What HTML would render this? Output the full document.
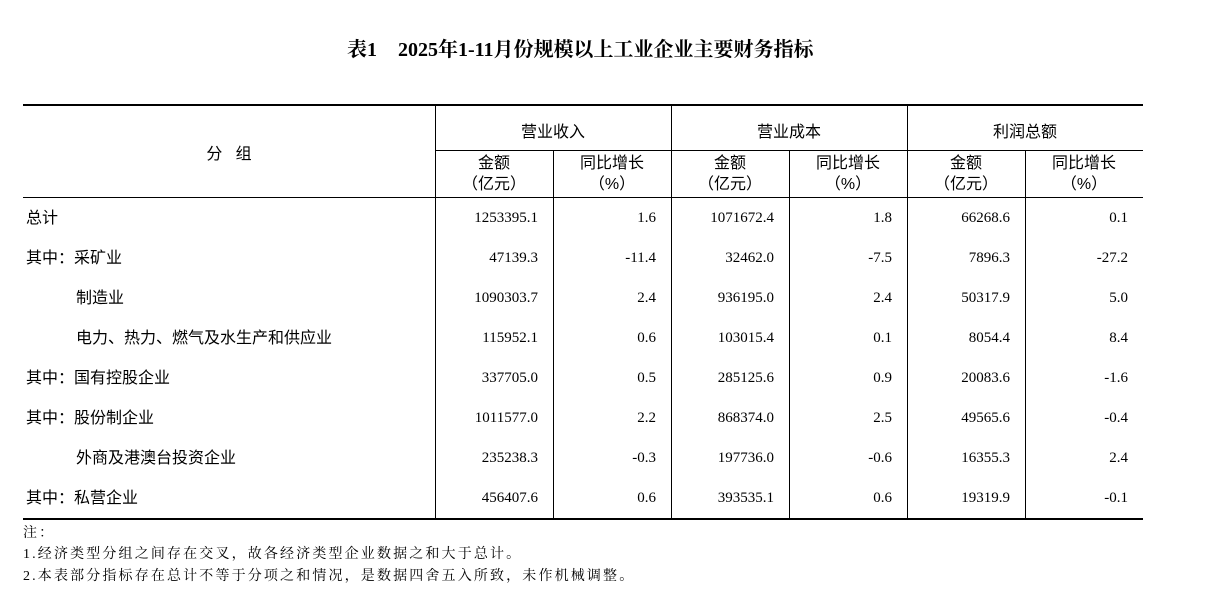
<!DOCTYPE html><html><head><meta charset="utf-8"><style>
body{margin:0;width:1228px;height:616px;background:#fff;position:relative;overflow:hidden;font-family:"Liberation Sans","Noto Sans CJK SC",sans-serif;color:#000}
.a{position:absolute;white-space:nowrap}
.h{position:absolute;background:#000}
.c{font-size:16px;text-align:center}
.n{font-family:"Liberation Serif","Noto Serif CJK SC",serif;font-size:15px;text-align:right}
.l{font-size:16px}
.note{font-family:"Liberation Serif","Noto Serif CJK SC",serif;font-size:14px;letter-spacing:2.15px}
.t{font-family:'Liberation Serif','Noto Serif CJK SC',serif;font-weight:bold;font-size:20px;top:33px}
</style></head><body>
<div class="a t" style="left:347px">表1</div>
<div class="a t" style="left:398px">2025年1-11月份规模以上工业企业主要财务指标</div>
<div class="h" style="left:23px;top:104px;width:1120px;height:2px"></div>
<div class="h" style="left:435px;top:150px;width:708px;height:1px"></div>
<div class="h" style="left:23px;top:197px;width:1120px;height:1px"></div>
<div class="h" style="left:23px;top:518px;width:1120px;height:2px"></div>
<div class="h" style="left:435px;top:105px;width:1px;height:414px"></div>
<div class="h" style="left:671px;top:105px;width:1px;height:414px"></div>
<div class="h" style="left:907px;top:105px;width:1px;height:414px"></div>
<div class="h" style="left:553px;top:150px;width:1px;height:369px"></div>
<div class="h" style="left:789px;top:150px;width:1px;height:369px"></div>
<div class="h" style="left:1025px;top:150px;width:1px;height:369px"></div>
<div class="a c" style="left:23px;width:412px;top:140px">分&nbsp;&nbsp;&nbsp;组</div>
<div class="a c" style="left:435px;width:236px;top:118px">营业收入</div>
<div class="a c" style="left:671px;width:236px;top:118px">营业成本</div>
<div class="a c" style="left:907px;width:236px;top:118px">利润总额</div>
<div class="a c" style="left:435px;width:118px;top:153px;line-height:21px">金额<br>（亿元）</div>
<div class="a c" style="left:553px;width:118px;top:153px;line-height:21px">同比增长<br>（%）</div>
<div class="a c" style="left:671px;width:118px;top:153px;line-height:21px">金额<br>（亿元）</div>
<div class="a c" style="left:789px;width:118px;top:153px;line-height:21px">同比增长<br>（%）</div>
<div class="a c" style="left:907px;width:118px;top:153px;line-height:21px">金额<br>（亿元）</div>
<div class="a c" style="left:1025px;width:118px;top:153px;line-height:21px">同比增长<br>（%）</div>
<div id="rows"></div>
<script>
var d=[["总计",0,"1253395.1","1.6","1071672.4","1.8","66268.6","0.1"],
["其中：采矿业",0,"47139.3","-11.4","32462.0","-7.5","7896.3","-27.2"],
["制造业",1,"1090303.7","2.4","936195.0","2.4","50317.9","5.0"],
["电力、热力、燃气及水生产和供应业",1,"115952.1","0.6","103015.4","0.1","8054.4","8.4"],
["其中：国有控股企业",0,"337705.0","0.5","285125.6","0.9","20083.6","-1.6"],
["其中：股份制企业",0,"1011577.0","2.2","868374.0","2.5","49565.6","-0.4"],
["外商及港澳台投资企业",1,"235238.3","-0.3","197736.0","-0.6","16355.3","2.4"],
["其中：私营企业",0,"456407.6","0.6","393535.1","0.6","19319.9","-0.1"]];
var h="",R=[538,656,774,892,1010,1128];
d.forEach(function(r,i){var y=207+i*40;
h+='<div class="a l" style="left:'+(r[1]?76:26)+'px;top:'+(y-3)+'px">'+r[0]+'</div>';
for(var j=0;j<6;j++)h+='<div class="a n" style="right:'+(1228-R[j])+'px;top:'+(y+3)+'px">'+r[j+2]+'</div>';});
document.getElementById("rows").innerHTML=h;
</script>
<div class="a note" style="left:23px;top:522px">注：</div>
<div class="a note" style="left:23px;top:543px">1.经济类型分组之间存在交叉，故各经济类型企业数据之和大于总计。</div>
<div class="a note" style="left:23px;top:565px">2.本表部分指标存在总计不等于分项之和情况，是数据四舍五入所致，未作机械调整。</div>
</body></html>
